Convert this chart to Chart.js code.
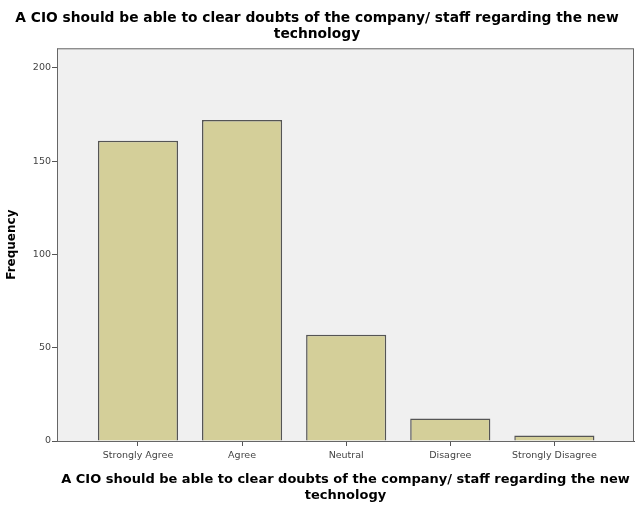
<!DOCTYPE html>
<html>
<head>
<meta charset="utf-8">
<script src="https://cdn.jsdelivr.net/npm/chart.js@4"></script>
<style>
  html, body { margin: 0; padding: 0; background: #ffffff; }
  #wrap { width: 636px; height: 506px; }
</style>
</head>
<body>
<div id="wrap"><canvas id="chartBarras" width="636" height="506"></canvas></div>
<script>
// datos
var categorias = ['Strongly Agree', 'Agree', 'Neutral', 'Disagree', 'Strongly Disagree'];
var frecuencias = [161, 172, 57, 12, 3];
var ticksY = [0, 50, 100, 150, 200];

var tituloTexto = ['A CIO should be able to clear doubts of the company/ staff regarding the new', 'technology'];

// fondo gris + marco del área de trazado (estilo SPSS)
var fondoPlot = {
  id: 'fondoPlot',
  beforeDatasetsDraw: function(chart) {
    var a = chart.chartArea, c = chart.ctx;
    c.save();
    c.fillStyle = '#f0f0f0';
    c.fillRect(a.left, a.top, a.right - a.left, a.bottom - a.top);
    c.restore();
  },
  afterDraw: function(chart) {
    var a = chart.chartArea, c = chart.ctx;
    c.save();
    c.strokeStyle = '#666666';
    c.lineWidth = 1;
    c.strokeRect(a.left + 0.5, a.top + 0.5, a.right - a.left - 1, a.bottom - a.top);
    c.restore();
  }
};

new Chart(document.getElementById('chartBarras'), {
  type: 'bar',
  data: {
    datasets: [{
      label: 'Frequency',
      data: frecuencias.map(function(v, i) { return { x: i, y: v }; }),
      backgroundColor: '#d4cf99',
      borderColor: '#555555',
      borderWidth: 1.5,
      barPercentage: 0.77,
      categoryPercentage: 1
    }]
  },
  plugins: [fondoPlot],
  options: {
    responsive: false,
    animation: false,
    layout: { padding: { left: 0, right: 2, top: 0, bottom: 0 } },
    plugins: {
      legend: { display: false },
      tooltip: { enabled: false },
      title: {
        display: true,
        text: tituloTexto,
        color: '#000000',
        font: { family: 'DejaVu Sans', size: 13.8, weight: 'bold', lineHeight: 1.17 },
        padding: { top: 10, bottom: 6 }
      }
    },
    scales: {
      x: {
        type: 'linear',
        offset: false,
        min: -0.778,
        max: 4.765,
        afterBuildTicks: function(s) {
          s.ticks = categorias.map(function(c, i) { return { value: i }; });
        },
        afterFit: function(s) { s.height = 65; },
        ticks: {
          callback: function(v) { return categorias[v]; },
          color: '#444444',
          font: { family: 'DejaVu Sans', size: 9.5 },
          padding: 4,
          maxRotation: 0,
          autoSkip: false
        },
        grid: { offset: false, drawOnChartArea: false, drawTicks: true, tickLength: 5, color: '#555555' },
        border: { display: true, color: '#555555' },
        title: {
          display: true,
          text: tituloTexto,
          color: '#000000',
          font: { family: 'DejaVu Sans', size: 13, weight: 'bold', lineHeight: 1.25 },
          padding: { top: 2, bottom: 2 }
        }
      },
      y: {
        min: 0,
        max: 210.5,
        afterBuildTicks: function(s) {
          s.ticks = ticksY.map(function(v) { return { value: v }; });
        },
        afterFit: function(s) { s.width = 57; },
        ticks: {
          color: '#444444',
          font: { family: 'DejaVu Sans', size: 9.5 },
          padding: 1
        },
        grid: { drawOnChartArea: false, drawTicks: true, tickLength: 5, color: '#555555' },
        border: { display: true, color: '#555555' },
        title: {
          display: true,
          text: 'Frequency',
          color: '#000000',
          font: { family: 'DejaVu Sans', size: 12, weight: 'bold' },
          padding: { top: 5, bottom: 0 }
        }
      }
    }
  }
});
</script>
</body>
</html>
